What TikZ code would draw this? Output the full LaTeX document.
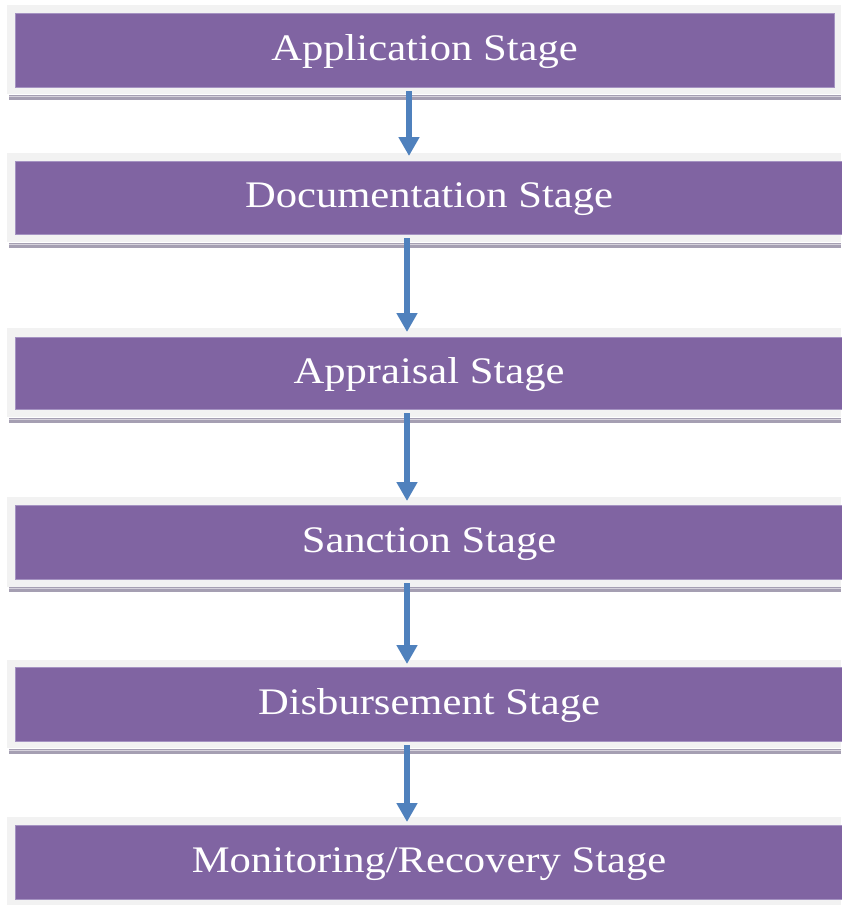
\documentclass[tikz,border=0pt]{standalone}
\usepackage{fontspec}
\setmainfont{Liberation Serif}
\usetikzlibrary{arrows.meta}
\definecolor{stagepurple}{HTML}{8064A2}
\definecolor{stageedge}{HTML}{A593C2}
\definecolor{framegray}{HTML}{F2F2F2}
\definecolor{shadowgray}{HTML}{A59FB2}
\definecolor{shadowlight}{HTML}{D6D2DC}
\definecolor{arrowblue}{HTML}{4F81BD}
\newcommand{\stagetext}[1]{\scalebox{1.136}[1]{#1}}
\tikzset{
  framebox/.style={rectangle, fill=framegray, inner sep=0pt, outer sep=0pt, anchor=north west},
  stagebox/.style={rectangle, fill=stagepurple, draw=stageedge, line width=0.8pt, inner sep=0pt, outer sep=0pt,
    anchor=north west, text=white, font=\fontsize{37.5}{45}\selectfont, text height=28pt, text depth=8pt},
  flowarrow/.style={draw=arrowblue, line width=6.8pt, -{Triangle[width=20pt,length=19pt]}},
}
\newcommand{\stageshadow}[1]{%
  \fill[shadowgray] (9,#1) rectangle (841,#1+5);
  \fill[shadowlight] (9,#1+1.3) rectangle (841,#1+2.2);
}
\begin{document}
\begin{tikzpicture}[x=1pt,y=-1pt]
\useasboundingbox (0,0) rectangle (841,905);
\fill[white] (0,0) rectangle (841,905);
% frames
\node[framebox, minimum width=834pt, minimum height=89pt] (f1) at (7,5) {};
\node[framebox, minimum width=834pt, minimum height=89pt] (f2) at (7,153) {};
\node[framebox, minimum width=834pt, minimum height=89pt] (f3) at (7,328) {};
\node[framebox, minimum width=834pt, minimum height=90pt] (f4) at (7,497) {};
\node[framebox, minimum width=834pt, minimum height=88pt] (f5) at (7,660) {};
\node[framebox, minimum width=834pt, minimum height=88pt] (f6) at (7,817) {};
% shadows
\stageshadow{95}
\stageshadow{243}
\stageshadow{418}
\stageshadow{587}
\stageshadow{749}
% stages
\node[stagebox, minimum width=819pt, minimum height=74pt] (s1) at (15,13) {\stagetext{Application Stage}};
\node[stagebox, minimum width=828pt, minimum height=73pt] (s2) at (15,161) {\stagetext{Documentation Stage}};
\node[stagebox, minimum width=828pt, minimum height=72pt] (s3) at (15,337) {\stagetext{Appraisal Stage}};
\node[stagebox, minimum width=828pt, minimum height=74pt] (s4) at (15,505) {\stagetext{Sanction Stage}};
\node[stagebox, minimum width=828pt, minimum height=74pt] (s5) at (15,667) {\stagetext{Disbursement Stage}};
\node[stagebox, minimum width=828pt, minimum height=74pt] (s6) at (15,825) {\stagetext{Monitoring/Recovery Stage}};
% arrows
\coordinate (ax1) at (409,0);
\coordinate (ax2) at (407,0);
\draw[flowarrow] ([yshift=-4pt]s1.south -| ax1) -- ([yshift=-3pt]f2.north -| ax1);
\draw[flowarrow] ([yshift=-4pt]s2.south -| ax2) -- ([yshift=-4pt]f3.north -| ax2);
\draw[flowarrow] ([yshift=-4pt]s3.south -| ax2) -- ([yshift=-4pt]f4.north -| ax2);
\draw[flowarrow] ([yshift=-4pt]s4.south -| ax2) -- ([yshift=-4pt]f5.north -| ax2);
\draw[flowarrow] ([yshift=-4pt]s5.south -| ax2) -- ([yshift=-5pt]f6.north -| ax2);
\end{tikzpicture}
\end{document}
